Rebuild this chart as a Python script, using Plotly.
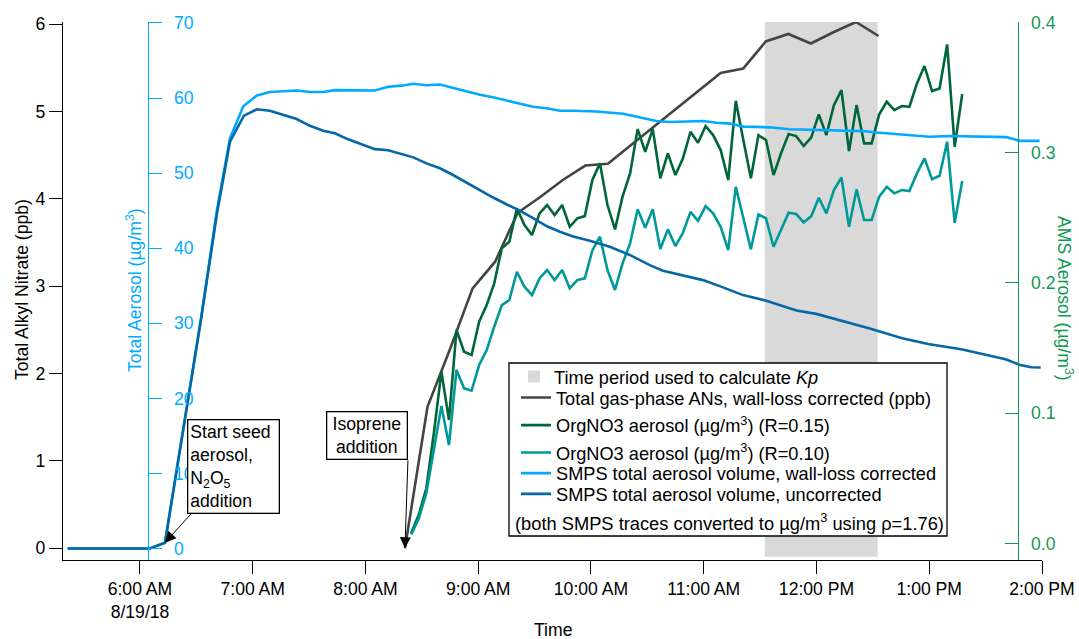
import pandas as pd
import plotly.graph_objects as go

DAY = "2018-08-19"

# ---------------- data (times in minutes after midnight) ----------------
SMPS_UNCORR_MIN = [321.5, 365.3, 373.3, 392.4, 401, 407.9, 415.3, 422.2, 429.1, 436.2,
                   443.4, 450.4, 457.5, 463.7, 470.8, 477.9, 485, 492.1, 499.2, 505.4,
                   512.5, 519.6, 526.6, 533.8, 540.9, 547.9, 555, 562.1, 569.2, 576.3,
                   583.4, 590.5, 599.4, 610, 620.6, 631.3, 638.3, 649, 659.6, 668.5,
                   680.9, 693.3, 702.2, 709.3, 719.9, 730.6, 747.9, 765.6, 779.4, 797,
                   808.8, 820.6, 828.4, 834.3, 839.3]
SMPS_UNCORR = [0, 0, 0.77, 30.4, 44.65, 54.2, 57.65, 58.5, 58.3, 57.75,
               57.2, 56.3, 55.65, 55.3, 54.5, 53.85, 53.2, 53.05, 52.5, 52.1,
               51.3, 50.65, 49.75, 48.7, 47.7, 46.75, 45.85, 45.0, 44.0, 42.95,
               42.2, 41.55, 41.0, 40.2, 39.1, 37.75, 37.0, 36.4, 35.75, 34.95,
               33.75, 33.0, 32.3, 31.7, 31.25, 30.5, 29.35, 28.0, 27.25, 26.55,
               25.9, 25.2, 24.45, 24.15, 24.1]

SMPS_CORR_MIN = [321.5, 365.3, 373.3, 392.4, 401, 407.9, 415, 422.2, 429.1, 436.2,
                 443.4, 450.4, 457.5, 463.7, 470.8, 477.9, 485, 492.1, 499.2, 505.4,
                 512.5, 519.6, 526.6, 533.8, 540.9, 547.9, 555, 562.1, 569.2, 576.3,
                 583.4, 590.5, 602.9, 617.1, 624.2, 634.8, 641.9, 659.6, 666.7, 673.8,
                 680.9, 695.1, 705.7, 719.9, 730.6, 744.7, 751.9, 766, 780.2, 790.8,
                 810.4, 821, 828.1, 838.7]
SMPS_CORR = [0, 0, 0.77, 30.5, 45.2, 54.65, 58.9, 60.35, 60.8, 60.9,
             61.0, 60.8, 60.8, 61.05, 61.0, 60.95, 61.0, 61.5, 61.65, 61.9,
             61.7, 61.8, 61.35, 60.95, 60.45, 60.1, 59.65, 59.2, 58.85, 58.65,
             58.3, 58.3, 58.2, 57.9, 57.5, 56.95, 56.8, 56.95, 56.7, 56.6,
             56.2, 56.1, 55.85, 55.75, 55.7, 55.6, 55.4, 55.1, 54.85, 54.95,
             54.85, 54.8, 54.3, 54.3]

AN_MIN = [501, 513, 525, 537, 549, 561, 573, 585, 597, 609, 621,
          633, 645, 657, 669, 681, 693, 705, 717, 729, 741, 753]
AN_PPB = [0, 1.62, 2.28, 2.975, 3.28, 3.84, 4.02, 4.215, 4.38, 4.40, 4.61,
          4.82, 5.03, 5.23, 5.44, 5.49, 5.80, 5.886, 5.777, 5.906, 6.023, 5.863]

AMS_START = "08:24:20"
AMS_STEP = "241s"
ORGNO3_R015 = [0.008, 0.022, 0.0424, 0.0846, 0.1319, 0.0948, 0.1639, 0.1472, 0.1447, 0.1702,
               0.1830, 0.1997, 0.2266, 0.2316, 0.2573, 0.2444, 0.2368, 0.2534, 0.2598, 0.2521,
               0.2598, 0.2431, 0.2496, 0.2513, 0.2790,
               0.2918, 0.2598, 0.2411, 0.2662, 0.2841, 0.3181, 0.3007, 0.3181, 0.2803, 0.2995,
               0.2828, 0.2956, 0.3160, 0.3076, 0.3204, 0.3135, 0.3020, 0.2790, 0.3398, 0.3097,
               0.2803, 0.3135, 0.3097, 0.2828,
               0.2995, 0.3143, 0.3127, 0.3051, 0.3117, 0.3294, 0.3135, 0.3365, 0.3480, 0.3012,
               0.3365, 0.3071, 0.3071, 0.3294, 0.3391, 0.3327, 0.3358, 0.3352, 0.3532, 0.3665,
               0.3473, 0.3493, 0.3831, 0.3045, 0.3450]
ORGNO3_R010 = [0.007, 0.019, 0.0385, 0.0718, 0.1055, 0.0756, 0.1332, 0.1191, 0.1173, 0.1370,
               0.1485, 0.1664, 0.1830, 0.1869, 0.2086, 0.1971, 0.1907, 0.2035, 0.2099, 0.2022,
               0.2099, 0.1959, 0.2022, 0.2035, 0.2250,
               0.2355, 0.2099, 0.1946, 0.2150, 0.2304, 0.2565, 0.2424, 0.2565, 0.2260, 0.2411,
               0.2283, 0.2385, 0.2546, 0.2477, 0.2590, 0.2534, 0.2431, 0.2252, 0.2738, 0.2496,
               0.2258, 0.2526, 0.2496, 0.2278,
               0.2406, 0.2539, 0.2529, 0.2465, 0.2513, 0.2654, 0.2534, 0.2713, 0.2810, 0.2431,
               0.2718, 0.2483, 0.2483, 0.2662, 0.2738, 0.2688, 0.2713, 0.2705, 0.2841, 0.2956,
               0.2797, 0.2823, 0.3084, 0.2462, 0.2782]

KP_PERIOD = ["11:32:30", "12:32:30"]

X_TICKS = ["06:00", "07:00", "08:00", "09:00", "10:00", "11:00", "12:00", "13:00", "14:00"]
X_TICKTEXT = ["6:00 AM<br>8/19/18", "7:00 AM", "8:00 AM", "9:00 AM", "10:00 AM",
              "11:00 AM", "12:00 PM", "1:00 PM", "2:00 PM"]

# ---------------- helpers ----------------
base = pd.Timestamp(DAY)


def to_time(minutes):
    return [base + pd.Timedelta(minutes=m) for m in minutes]


def at(hms):
    return pd.Timestamp(f"{DAY} {hms}")


ams_time = pd.date_range(at(AMS_START), periods=len(ORGNO3_R015), freq=AMS_STEP)

FONT = "Liberation Sans, Arial, sans-serif"
FS = 17.6
LFS = 18.2
C_GRAY = "#444444"
C_GREEN = "#00663a"
C_TEAL = "#009999"
C_LBLUE = "#00aaff"
C_DBLUE = "#0567a6"
C_CYAN_AX = "#00aaff"
C_GREEN_AX = "#119a4e"

# plot geometry in pixels (for paper-referenced decorations)
L, R, T, B = 63, 37, 22, 79
W, H = 1079, 639
PW, PH = W - L - R, H - T - B


def px(xp):
    return (xp - L) / PW


def py(yp):
    return (H - B - yp) / PH


LEGEND_ROWS = [376.7, 397.7, 425.3, 452.7, 473.3, 494.0]
LEGEND_X = [514, 516, 516, 516, 516, 516]

fig = go.Figure()

fig.add_trace(go.Scatter(x=to_time(AN_MIN), y=AN_PPB, mode="lines", yaxis="y",
                         line=dict(color=C_GRAY, width=2.6), legend="legend2",
                         name="Total gas-phase ANs, wall-loss corrected (ppb)"))
fig.add_trace(go.Scatter(x=ams_time, y=ORGNO3_R015, mode="lines", yaxis="y2",
                         line=dict(color=C_GREEN, width=2.6), legend="legend3",
                         name="OrgNO3 aerosol (µg/m<sup>3</sup>) (R=0.15)"))
fig.add_trace(go.Scatter(x=ams_time, y=ORGNO3_R010, mode="lines", yaxis="y2",
                         line=dict(color=C_TEAL, width=2.6), legend="legend4",
                         name="OrgNO3 aerosol (µg/m<sup>3</sup>) (R=0.10)"))
fig.add_trace(go.Scatter(x=to_time(SMPS_CORR_MIN), y=SMPS_CORR, mode="lines", yaxis="y3",
                         line=dict(color=C_LBLUE, width=2.6), legend="legend5",
                         name="SMPS total aerosol volume, wall-loss corrected"))
fig.add_trace(go.Scatter(x=to_time(SMPS_UNCORR_MIN), y=SMPS_UNCORR, mode="lines", yaxis="y3",
                         line=dict(color=C_DBLUE, width=2.6), legend="legend6",
                         name="SMPS total aerosol volume, uncorrected"))

shapes = [
    dict(type="rect", xref="x", yref="paper", x0=at(KP_PERIOD[0]), x1=at(KP_PERIOD[1]),
         y0=py(556.7), y1=1, fillcolor="#d9d9d9", line=dict(width=0), layer="below",
         showlegend=True, legend="legend", name="Time period used to calculate <i>Kp</i>"),
    dict(type="rect", xref="paper", yref="paper", x0=px(509), x1=px(947),
         y0=py(536), y1=py(363), fillcolor="white", line=dict(color="black", width=1.3),
         layer="above"),
]

annotations = [
    dict(text="Total Alkyl Nitrate (ppb)", xref="paper", yref="paper", x=px(22), y=py(290),
         xanchor="center", yanchor="middle",
         textangle=-90, showarrow=False, font=dict(size=FS, color="black")),
    dict(text="Total Aerosol (µg/m<sup>3</sup>)", xref="paper", yref="paper", x=px(134), y=py(290),
         xanchor="center", yanchor="middle",
         textangle=-90, showarrow=False, font=dict(size=FS, color=C_CYAN_AX)),
    dict(text="AMS Aerosol (µg/m<sup>3</sup>)", xref="paper", yref="paper", x=px(1065), y=py(298),
         xanchor="center", yanchor="middle",
         textangle=90, showarrow=False, font=dict(size=FS, color=C_GREEN_AX)),
    dict(text="Time", xref="paper", yref="paper", x=0.5, y=py(630), xanchor="center",
         yanchor="middle", showarrow=False, font=dict(size=FS, color="black")),
    dict(text="(both SMPS traces converted to µg/m<sup>3</sup> using ρ=1.76)", xref="paper",
         yref="paper", x=px(513), y=py(521.7), xanchor="left", yanchor="middle",
         showarrow=False, font=dict(size=18.3, color="black")),
    dict(text="Isoprene<br>addition", xref="x", yref="y",
         x=to_time(AN_MIN)[0], y=AN_PPB[0], ax=3, ay=-88, xanchor="right", yanchor="bottom",
         showarrow=True, arrowhead=2, arrowsize=2.2, arrowwidth=1, arrowcolor="black",
         align="center", width=75, bgcolor="white", bordercolor="black", borderwidth=1.3,
         borderpad=2, font=dict(size=FS, color="black")),
    dict(text="Start seed<br>aerosol,<br>N<sub>2</sub>O<sub>5</sub><br>addition", xref="x", yref="y3",
         x=to_time(SMPS_UNCORR_MIN)[2], y=SMPS_UNCORR[2], ax=68.6, ay=-76,
         showarrow=True, arrowhead=2, arrowsize=2.2, arrowwidth=1, arrowcolor="black",
         align="left", width=86, bgcolor="white", bordercolor="black", borderwidth=1.3,
         borderpad=2, font=dict(size=FS, color="black")),
]

legends = {}
for i, (row, lx) in enumerate(zip(LEGEND_ROWS, LEGEND_X)):
    key = "legend" if i == 0 else f"legend{i + 1}"
    legends[key] = dict(x=px(lx), xanchor="left", y=py(row), yanchor="middle",
                        bgcolor="rgba(0,0,0,0)", borderwidth=0,
                        font=dict(size=LFS, color="black"))

fig.update_layout(
    width=W, height=H,
    margin=dict(l=L, r=R, t=T, b=B, pad=0, autoexpand=False),
    paper_bgcolor="white", plot_bgcolor="white",
    font=dict(family=FONT, size=FS, color="black"),
    showlegend=True,
    xaxis=dict(type="date", range=[at("05:19:02"), at("14:00:00")],
               tickvals=[at(t) for t in X_TICKS], ticktext=X_TICKTEXT,
               ticks="outside", ticklen=13, tickwidth=1.3, tickcolor="black",
               showline=True, linecolor="black", linewidth=1.3, showgrid=False, zeroline=False,
               tickfont=dict(size=FS, color="black")),
    yaxis=dict(range=[-0.134, 6.023], tickvals=[0, 1, 2, 3, 4, 5, 6],
               ticks="outside", ticklen=13, tickwidth=1.3, tickcolor="black",
               showline=True, linecolor="black", linewidth=1.3, showgrid=False, zeroline=False,
               tickfont=dict(size=FS, color="black")),
    yaxis2=dict(range=[-0.01266, 0.4003], tickvals=[0, 0.1, 0.2, 0.3, 0.4], tickformat=".1f",
                overlaying="y", anchor="free", position=px(1018.3), side="right",
                ticks="inside", ticklen=13, tickwidth=1.3, tickcolor=C_GREEN_AX,
                ticklabelstandoff=8,
                showline=True, linecolor=C_GREEN_AX, linewidth=1.3, showgrid=False, zeroline=False,
                tickfont=dict(size=FS, color=C_GREEN_AX)),
    yaxis3=dict(range=[-1.532, 70.13], tickvals=[0, 10, 20, 30, 40, 50, 60, 70],
                overlaying="y", anchor="free", position=px(148.3), side="right",
                ticks="outside", ticklen=13, tickwidth=1.3, tickcolor=C_CYAN_AX,
                ticklabelstandoff=8,
                showline=True, linecolor=C_CYAN_AX, linewidth=1.3, showgrid=False, zeroline=False,
                tickfont=dict(size=FS, color=C_CYAN_AX)),
    shapes=shapes,
    annotations=annotations,
    **legends,
)

fig.write_html("out.html", config={"displayModeBar": False})
